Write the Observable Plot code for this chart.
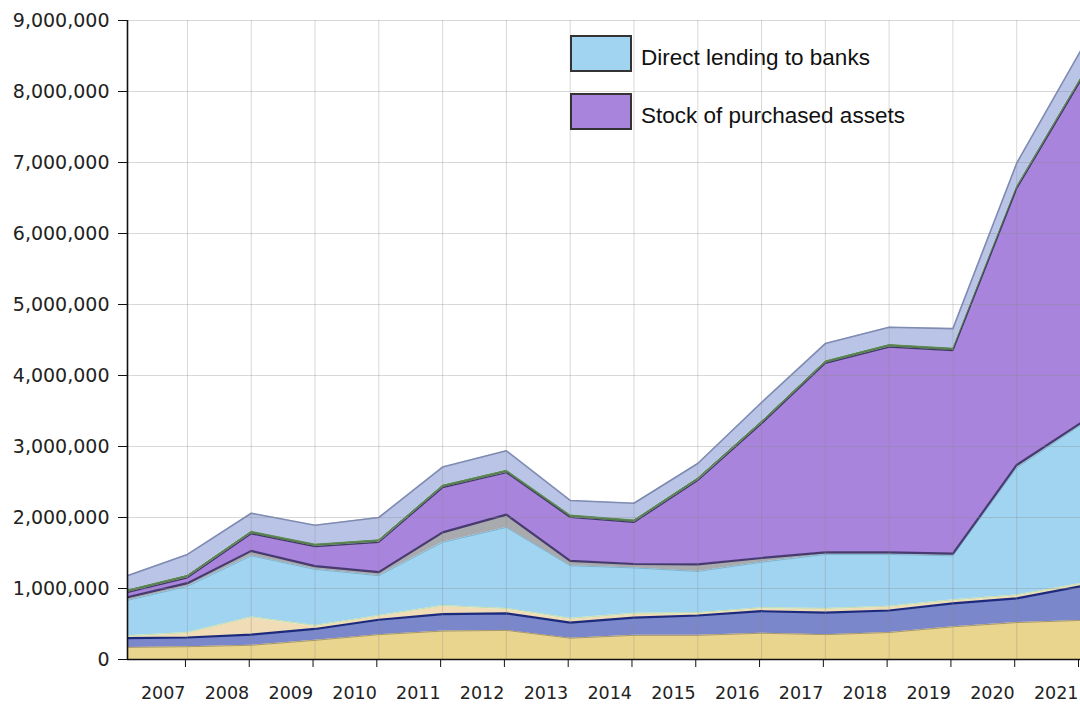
<!DOCTYPE html>
<html>
<head>
<meta charset="utf-8">
<script src="https://cdn.jsdelivr.net/npm/d3@7"></script>
<script src="https://cdn.jsdelivr.net/npm/@observablehq/plot@0.6"></script>
<style>
  body { margin: 0; background: #fff; }
  #wrap { position: relative; width: 1080px; height: 705px; overflow: hidden; }
  .item { position: absolute; left: 570px; display: flex; align-items: center;
          font-family: "Liberation Sans", Arial, sans-serif; font-size: 22.5px; color: #111; white-space: nowrap; }
  .item span { position: relative; top: 4px; }
  .sw { box-sizing: border-box; width: 62px; height: 37px; border: 2px solid #333; margin-right: 9px; }
</style>
</head>
<body>
<div id="wrap"></div>
<script>
// ---- data ----
const years = [2006, 2007, 2008, 2009, 2010, 2011, 2012, 2013, 2014, 2015, 2016, 2017, 2018, 2019, 2020, 2021];
const tickYears = [2007, 2008, 2009, 2010, 2011, 2012, 2013, 2014, 2015, 2016, 2017, 2018, 2019, 2020, 2021];
const yTicks = [0, 1000000, 2000000, 3000000, 4000000, 5000000, 6000000, 7000000, 8000000, 9000000];

const goldValues      = [170000, 180000, 200000, 270000, 350000, 400000, 410000, 300000, 340000, 340000, 370000, 350000, 380000, 460000, 520000, 550000];
const foreignClaims   = [130000, 130000, 150000, 160000, 210000, 240000, 240000, 220000, 250000, 280000, 310000, 310000, 310000, 330000, 340000, 480000];
const fxResidents     = [15000, 55000, 235000, 35000, 45000, 105000, 55000, 45000, 45000, 25000, 35000, 45000, 45000, 35000, 35000, 25000];
const euroNonResidents= [15000, 15000, 15000, 15000, 15000, 15000, 15000, 15000, 15000, 15000, 15000, 15000, 15000, 15000, 15000, 15000];
const directLending   = [490000, 650000, 860000, 790000, 560000, 890000, 1140000, 740000, 640000, 580000, 640000, 760000, 730000, 620000, 1790000, 2230000];
const otherBankClaims = [45000, 45000, 70000, 45000, 50000, 140000, 180000, 70000, 55000, 100000, 60000, 30000, 30000, 30000, 40000, 30000];
const purchasedAssets = [65000, 75000, 240000, 275000, 420000, 630000, 590000, 610000, 585000, 1180000, 1890000, 2660000, 2890000, 2860000, 3890000, 4820000];
const govDebt         = [35000, 35000, 35000, 35000, 35000, 35000, 35000, 35000, 35000, 35000, 35000, 35000, 35000, 35000, 35000, 35000];
const otherAssets     = [195000, 295000, 255000, 265000, 315000, 255000, 275000, 205000, 235000, 205000, 265000, 245000, 245000, 275000, 325000, 385000];

const seriesNames = [
  "Gold and gold receivables",
  "Claims on non-euro area residents in foreign currency",
  "Claims on euro area residents in foreign currency",
  "Claims on non-euro area residents in euro",
  "Direct lending to banks",
  "Other claims on credit institutions",
  "Stock of purchased assets",
  "General government debt",
  "Other assets"
];
const seriesValues = [goldValues, foreignClaims, fxResidents, euroNonResidents, directLending, otherBankClaims, purchasedAssets, govDebt, otherAssets];
const fillColors = ["#ead58e", "#7a87cb", "#f0dcb6", "#def0c6", "#a0d4f1", "#a9aaae", "#a884dc", "#55804c", "#bac4e6"];
const edgeColors = ["#a8986a", "#1c2a7c", "#e8d4b0", "#c2dcb0", "#7eb4d0", "#463a70", "#3e3a60", "#5e8a58", "#7f8cb2"];
const edgeWidths = [1, 2.2, 0, 1, 1, 2.2, 1.2, 1, 1.6];

const legendNames = ["Direct lending to banks", "Stock of purchased assets"];
const xDomain = [2006.06, 2021];

// long table built from the arrays
const rows = [];
seriesNames.forEach((s, i) => years.forEach((y, j) => rows.push({series: s, year: y, value: seriesValues[i][j]})));
const fillOf = Object.fromEntries(seriesNames.map((s, i) => [s, fillColors[i]]));
const edgeOf = Object.fromEntries(seriesNames.map((s, i) => [s, edgeColors[i]]));
const widthOf = Object.fromEntries(seriesNames.map((s, i) => [s, edgeWidths[i]]));

const edgeMark = (w) => Plot.lineY(rows, Plot.stackY2({
  x: "year", y: "value", z: "series", order: seriesNames,
  stroke: d => widthOf[d.series] === w ? edgeOf[d.series] : "none",
  strokeWidth: w, clip: true
}));

const chart = Plot.plot({
  width: 1080, height: 705,
  marginLeft: 127, marginRight: 0, marginTop: 20, marginBottom: 46,
  style: {fontFamily: "'DejaVu Sans', Verdana, sans-serif", color: "#222", background: "#fff"},
  x: {domain: xDomain, label: null},
  y: {domain: [0, 9000000], label: null},
  color: {type: "identity"},
  marks: [
    Plot.areaY(rows, {x: "year", y: "value", z: "series", order: seriesNames, fill: d => fillOf[d.series], clip: true}),
    edgeMark(1), edgeMark(1.2), edgeMark(1.6), edgeMark(2.2),
    Plot.gridX({ticks: tickYears, stroke: "#888", strokeOpacity: 0.33}),
    Plot.gridY({ticks: yTicks, stroke: "#888", strokeOpacity: 0.33}),
    Plot.ruleY([0], {stroke: "#111", strokeWidth: 1.6}),
    Plot.ruleX([xDomain[0]], {stroke: "#111", strokeWidth: 1.6}),
    Plot.axisY({ticks: yTicks, tickFormat: d3.format(","), tickSize: 9, tickPadding: 9, fontSize: 19, stroke: "#111", label: null}),
    Plot.axisX({ticks: tickYears, tickFormat: d => String(d), tickSize: 8, tickPadding: 19, textAnchor: "end", dx: -2, fontSize: 17.5, stroke: "#111", label: null})
  ]
});

const wrap = document.getElementById("wrap");
wrap.appendChild(chart);
legendNames.forEach((name, i) => {
  const item = document.createElement("div");
  item.className = "item";
  item.style.top = (35 + i * 58) + "px";
  const sw = document.createElement("div");
  sw.className = "sw";
  sw.style.background = fillOf[name];
  const label = document.createElement("span");
  label.textContent = name;
  item.appendChild(sw);
  item.appendChild(label);
  wrap.appendChild(item);
});
</script>
</body>
</html>
